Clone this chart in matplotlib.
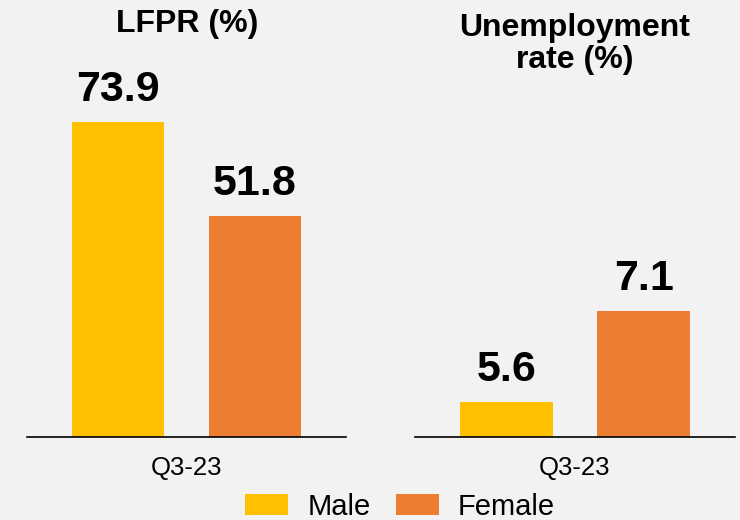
import matplotlib
matplotlib.use("Agg")
import matplotlib.pyplot as plt
from matplotlib.patches import Patch

plt.rcParams.update(
    {
        "font.family": ["Liberation Sans", "DejaVu Sans"],
        "figure.facecolor": "#F2F2F2",
        "axes.facecolor": "#F2F2F2",
    }
)

# data
period = ["Q3-23"]
series = ["Male", "Female"]
lfpr = [73.9, 51.8]
unemp = [5.6, 7.1]
panel_titles = ["LFPR (%)", "Unemployment\nrate (%)"]
colors = ["#FFC000", "#ED7D31"]

W, H = 740, 520
fig = plt.figure(figsize=(W / 100, H / 100), dpi=100)

ax1 = fig.add_axes([27 / W, 83 / H, 319 / W, 357 / H])
ax2 = fig.add_axes([415 / W, 83 / H, 320 / W, 357 / H])

width = 0.58
offset = 0.43


def draw_panel(ax, values, ylim):
    for i, (v, c) in enumerate(zip(values, colors)):
        xpos = (-offset if i == 0 else offset)
        ax.bar(xpos, v, width, color=c, bottom=0)
        ax.annotate(
            f"{v}",
            xy=(xpos, v),
            xytext=(0, 15),
            textcoords="offset points",
            ha="center",
            va="baseline",
            fontsize=31,
            fontweight="bold",
        )
    ax.set_xlim(-1, 1)
    ax.set_ylim(*ylim)
    ax.set_xticks([0])
    ax.set_xticklabels(period, fontsize=18.5)
    ax.tick_params(axis="x", length=0, pad=14)
    ax.set_yticks([])
    for s in ["left", "right", "top"]:
        ax.spines[s].set_visible(False)
    ax.spines["bottom"].set_linewidth(1.2)


draw_panel(ax1, lfpr, (0, 83.7))
draw_panel(ax2, unemp, (5.02, 10.9))

fig.text(187 / W, 1 - 32 / H, panel_titles[0], ha="center", va="baseline",
         fontsize=23, fontweight="bold")
# multi-line text: baseline refers to the last line
fig.text(575 / W, 1 - 68 / H, panel_titles[1], ha="center", va="baseline",
         fontsize=23, fontweight="bold", linespacing=1.1)

handles = [Patch(facecolor=c, label=s) for s, c in zip(series, colors)]
fig.legend(
    handles=handles,
    loc="upper center",
    bbox_to_anchor=(400 / W, 1 - 478 / H),
    ncol=2,
    frameon=False,
    fontsize=21,
    borderpad=0,
    handlelength=1.48,
    handleheight=0.72,
    handletextpad=0.66,
    columnspacing=0.86,
)

plt.savefig("out.png", dpi=100)
